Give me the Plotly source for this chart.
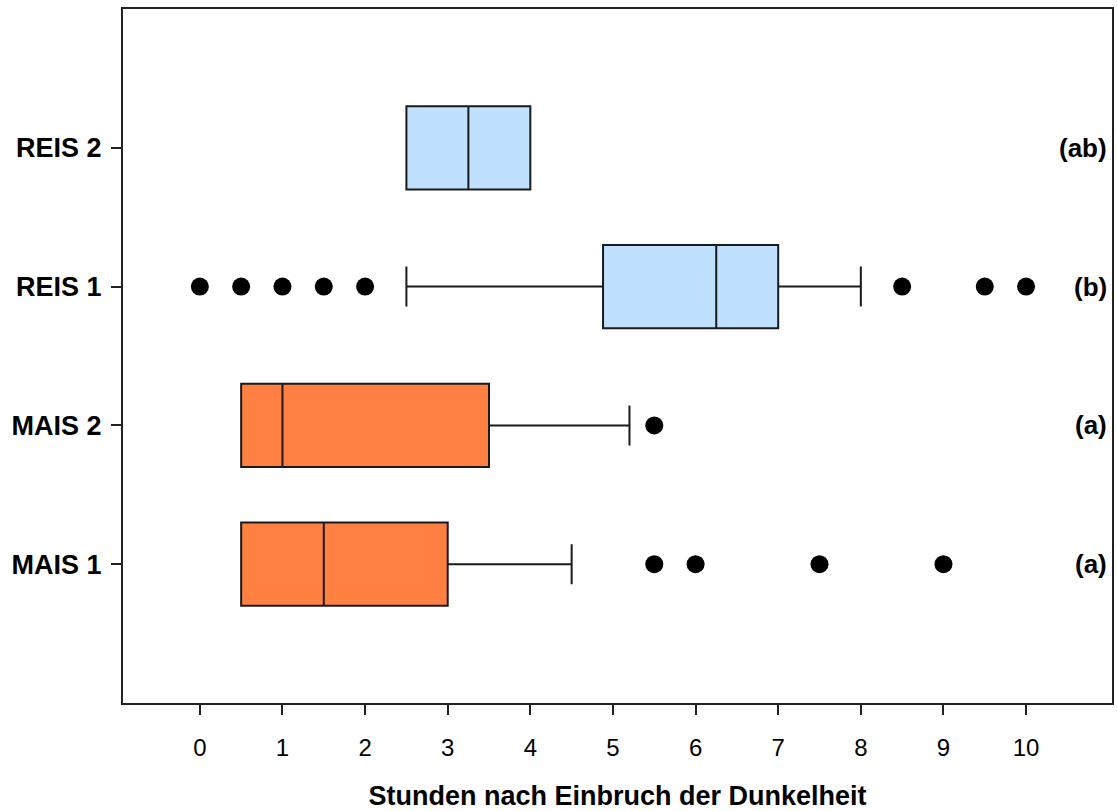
import plotly.graph_objects as go

categories = ["MAIS 1", "MAIS 2", "REIS 1", "REIS 2"]
q1 = [0.5, 0.5, 4.88, 2.5]
median = [1.5, 1.0, 6.25, 3.25]
q3 = [3.0, 3.5, 7.0, 4.0]
lower_fence = [0.5, 0.5, 2.5, 2.5]
upper_fence = [4.5, 5.2, 8.0, 4.0]
outliers = [
    [5.5, 6.0, 7.5, 9.0],
    [5.5],
    [0, 0.5, 1.0, 1.5, 2.0, 8.5, 9.5, 10.0],
    [],
]
letters = ["(a)", "(a)", "(b)", "(ab)"]
colors = ["#FF8040", "#FF8040", "#BFE0FF", "#BFE0FF"]

FONT = "Liberation Sans, Arial, sans-serif"

fig = go.Figure()
for i, cat in enumerate(categories):
    fig.add_trace(go.Box(
        orientation="h",
        y=[i],
        q1=[q1[i]], median=[median[i]], q3=[q3[i]],
        lowerfence=[lower_fence[i]], upperfence=[upper_fence[i]],
        width=0.6,
        whiskerwidth=0.48,
        fillcolor=colors[i],
        line=dict(color="#1a1a1a", width=2),
        boxpoints=False,
        showlegend=False,
        hoverinfo="skip",
    ))
    if outliers[i]:
        fig.add_trace(go.Scatter(
            x=outliers[i], y=[i] * len(outliers[i]),
            mode="markers",
            marker=dict(color="black", size=18),
            showlegend=False, hoverinfo="skip",
        ))
    fig.add_annotation(
        x=0.997, xref="paper", y=i, yref="y",
        text=letters[i], showarrow=False, xanchor="right",
        font=dict(family=FONT, size=26, color="black", weight="bold"),
    )

fig.update_layout(
    width=1117, height=811,
    margin=dict(l=123, r=5, t=9, b=108),
    paper_bgcolor="white", plot_bgcolor="white",
    font=dict(family=FONT, color="black"),
)
fig.update_xaxes(
    range=[-0.93, 11.04],
    tickvals=list(range(0, 11)),
    ticks="outside", ticklen=10, tickwidth=2, tickcolor="#222",
    showline=True, linecolor="#222", linewidth=2, mirror=True,
    showgrid=False, zeroline=False,
    tickfont=dict(size=24),
    ticklabelstandoff=12,
    automargin=False,
    title=dict(text="<b>Stunden nach Einbruch der Dunkelheit</b>", font=dict(size=27), standoff=28),
)
fig.update_yaxes(
    range=[-1, 4],
    tickvals=[0, 1, 2, 3], ticktext=categories,
    ticks="outside", ticklen=10, tickwidth=2, tickcolor="#222",
    showline=True, linecolor="#222", linewidth=2, mirror=True,
    showgrid=False, zeroline=False,
    tickfont=dict(size=27, weight="bold"),
    ticklabelstandoff=4,
    automargin=False,
)

fig.write_html(
    "out.html",
    config={"displayModeBar": False},
    post_script="document.body.style.margin='0';document.body.style.overflow='hidden';",
)
